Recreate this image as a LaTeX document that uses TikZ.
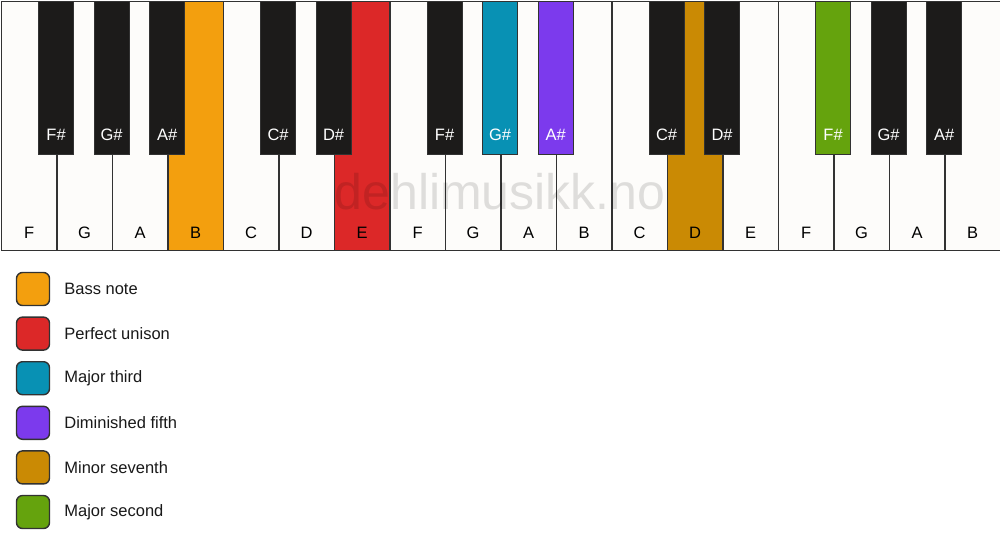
\documentclass[tikz,border=0pt]{standalone}
\usepackage{fontspec}
\setmainfont{Liberation Sans}
\usetikzlibrary{positioning}
\definecolor{keywhite}{RGB}{253,252,250}
\definecolor{keyblack}{RGB}{28,27,26}
\definecolor{keyline}{RGB}{50,50,50}
\definecolor{bassnote}{RGB}{243,159,14}
\definecolor{unison}{RGB}{220,40,40}
\definecolor{third}{RGB}{8,145,180}
\definecolor{dimfifth}{RGB}{124,58,237}
\definecolor{seventh}{RGB}{202,138,4}
\definecolor{second}{RGB}{101,163,13}
\tikzstyle{wkey} = [rectangle, draw=keyline, line width=1.6pt, minimum width=55.5pt, minimum height=249pt, anchor=north west, inner sep=0pt]
\tikzstyle{bkey} = [rectangle, draw=keyline, line width=1pt, minimum width=35pt, minimum height=153pt, anchor=north, inner sep=0pt]
\tikzstyle{wname} = [text=black, font=\fontsize{16.5}{19}\selectfont, anchor=base, inner sep=0pt]
\tikzstyle{bname} = [text=white, font=\fontsize{16.5}{19}\selectfont, anchor=base, inner sep=0pt]
\tikzstyle{legbox} = [rectangle, rounded corners=6pt, draw=keyline, line width=1.4pt, minimum size=33pt, inner sep=0pt]
\tikzstyle{legtext} = [text=black!90, font=\fontsize{16.5}{19}\selectfont, anchor=west, inner sep=0pt]

\begin{document}
\begin{tikzpicture}[x=1pt, y=-1pt]
\useasboundingbox[fill=white] (0,0) rectangle (1000,550);

% white keys =============================
\foreach \n/\c [count=\i from 0] in {F/keywhite, G/keywhite, A/keywhite, B/bassnote, C/keywhite, D/keywhite, E/unison, F/keywhite, G/keywhite, A/keywhite, B/keywhite, C/keywhite, D/seventh, E/keywhite, F/keywhite, G/keywhite, A/keywhite, B/keywhite}
{
  \node[wkey, fill=\c] (w\i) at (\i*55.5+0.6, 0.6) {};
  \node[wname] (wn\i) at ([yshift=12.5pt]w\i.south) {\n};
}

% watermark
\node[text=black, text opacity=0.12, font=\fontsize{50}{60}\selectfont, inner sep=0pt] (mark) at (500,192) {dehlimusikk.no};

% black keys =============================
\foreach \b/\n/\c in {1/F/keyblack, 2/G/keyblack, 3/A/keyblack, 5/C/keyblack, 6/D/keyblack, 8/F/keyblack, 9/G/third, 10/A/dimfifth, 12/C/keyblack, 13/D/keyblack, 15/F/second, 16/G/keyblack, 17/A/keyblack}
{
  \node[bkey, fill=\c] (b\b) at (\b*55.5+0.6, 0.6) {};
  \node[bname] (bn\b) at ([yshift=14pt]b\b.south) {\n\#};
}

% legend
\node[legbox, fill=bassnote] (l1) at (33,289) {};
\node[legbox, fill=unison, below=10.2pt of l1] (l2) {};
\node[legbox, fill=third, below=10.2pt of l2] (l3) {};
\node[legbox, fill=dimfifth, below=10.2pt of l3] (l4) {};
\node[legbox, fill=seventh, below=10.2pt of l4] (l5) {};
\node[legbox, fill=second, below=10.2pt of l5] (l6) {};
\node[legtext, right=14pt of l1] (t1) {Bass note};
\node[legtext, right=14pt of l2] (t2) {Perfect unison};
\node[legtext, right=14pt of l3] (t3) {Major third};
\node[legtext, right=14pt of l4] (t4) {Diminished fifth};
\node[legtext, right=14pt of l5] (t5) {Minor seventh};
\node[legtext, right=14pt of l6] (t6) {Major second};

\end{tikzpicture}
\end{document}
